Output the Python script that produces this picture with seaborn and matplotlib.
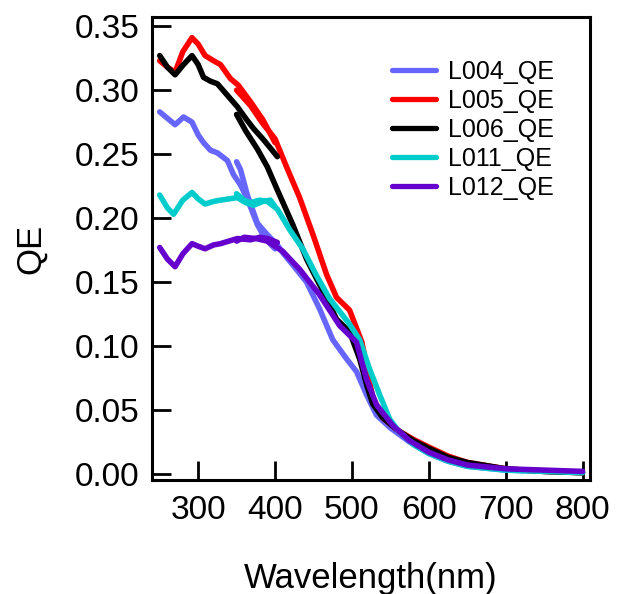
import pandas as pd
import matplotlib
matplotlib.use('Agg')
import matplotlib.pyplot as plt
import seaborn as sns

# Each sample was measured in two runs: a short UV scan and a long scan
series_names = ['L004_QE', 'L005_QE', 'L006_QE', 'L011_QE', 'L012_QE']
series_colors = ['#6666FF', '#FF0000', '#000000', '#00CCCC', '#6600CC']

l004_short_wl = [250, 260, 270, 281, 292, 300, 307, 316, 325, 338, 346, 355, 364, 377, 387, 400]
l004_short_qe = [0.283, 0.278, 0.273, 0.279, 0.275, 0.265, 0.259, 0.253, 0.251, 0.245, 0.234, 0.226, 0.215, 0.195, 0.184, 0.176]
l004_long_wl = [350, 355, 364, 377, 390, 403, 410, 425, 441, 458, 475, 493, 506, 519, 532, 550, 575, 600, 625, 650, 700, 750, 800]
l004_long_qe = [0.244, 0.238, 0.218, 0.196, 0.187, 0.179, 0.173, 0.162, 0.150, 0.129, 0.105, 0.090, 0.080, 0.062, 0.046, 0.036, 0.025, 0.016, 0.010, 0.006, 0.003, 0.002, 0.001]

l005_short_wl = [250, 260, 270, 280, 292, 300, 309, 320, 329, 342, 352, 368, 384, 400]
l005_short_qe = [0.323, 0.318, 0.314, 0.330, 0.341, 0.336, 0.327, 0.323, 0.320, 0.309, 0.304, 0.291, 0.277, 0.259]
l005_long_wl = [350, 368, 384, 400, 415, 432, 450, 467, 480, 497, 506, 513, 519, 527, 540, 560, 580, 600, 625, 650, 700, 750, 800]
l005_long_qe = [0.300, 0.288, 0.274, 0.262, 0.240, 0.216, 0.186, 0.156, 0.138, 0.128, 0.114, 0.103, 0.085, 0.060, 0.044, 0.034, 0.027, 0.021, 0.014, 0.009, 0.004, 0.002, 0.001]

l006_short_wl = [250, 260, 270, 281, 292, 300, 307, 316, 325, 338, 351, 363, 372, 384, 395, 403]
l006_short_qe = [0.327, 0.318, 0.312, 0.320, 0.327, 0.320, 0.310, 0.307, 0.305, 0.296, 0.287, 0.277, 0.270, 0.262, 0.254, 0.248]
l006_long_wl = [350, 362, 377, 390, 403, 423, 441, 458, 480, 497, 510, 520, 527, 540, 560, 580, 600, 625, 650, 700, 750, 800]
l006_long_qe = [0.281, 0.268, 0.254, 0.240, 0.222, 0.195, 0.168, 0.148, 0.121, 0.111, 0.090, 0.068, 0.055, 0.044, 0.034, 0.026, 0.020, 0.013, 0.009, 0.004, 0.002, 0.001]

l011_short_wl = [250, 260, 268, 280, 292, 300, 309, 320, 329, 340, 351, 362, 372, 384, 394, 400]
l011_short_qe = [0.218, 0.208, 0.203, 0.214, 0.220, 0.215, 0.211, 0.213, 0.214, 0.215, 0.216, 0.212, 0.210, 0.213, 0.214, 0.209]
l011_long_wl = [350, 360, 368, 380, 390, 403, 419, 436, 454, 471, 488, 497, 510, 523, 536, 549, 560, 580, 600, 625, 650, 700, 750, 800]
l011_long_qe = [0.219, 0.214, 0.212, 0.214, 0.213, 0.207, 0.191, 0.176, 0.155, 0.137, 0.124, 0.117, 0.105, 0.082, 0.062, 0.043, 0.034, 0.023, 0.016, 0.010, 0.006, 0.003, 0.002, 0.001]

l012_short_wl = [250, 260, 270, 280, 292, 300, 309, 320, 329, 340, 351, 368, 380, 390, 403]
l012_short_qe = [0.177, 0.168, 0.162, 0.172, 0.180, 0.178, 0.176, 0.179, 0.180, 0.182, 0.184, 0.183, 0.185, 0.184, 0.181]
l012_long_wl = [350, 360, 375, 390, 410, 432, 458, 484, 506, 519, 532, 553, 575, 600, 625, 650, 700, 750, 800]
l012_long_qe = [0.182, 0.185, 0.184, 0.182, 0.174, 0.160, 0.140, 0.116, 0.103, 0.074, 0.054, 0.038, 0.026, 0.017, 0.011, 0.007, 0.004, 0.003, 0.002]

runs = [
    ('L004_QE', l004_short_wl, l004_short_qe, l004_long_wl, l004_long_qe),
    ('L005_QE', l005_short_wl, l005_short_qe, l005_long_wl, l005_long_qe),
    ('L006_QE', l006_short_wl, l006_short_qe, l006_long_wl, l006_long_qe),
    ('L011_QE', l011_short_wl, l011_short_qe, l011_long_wl, l011_long_qe),
    ('L012_QE', l012_short_wl, l012_short_qe, l012_long_wl, l012_long_qe),
]

frames = []
for name, swl, sqe, lwl, lqe in runs:
    frames.append(pd.DataFrame({'wl': swl, 'qe': sqe, 'series': name, 'run': name + '_short'}))
    frames.append(pd.DataFrame({'wl': lwl, 'qe': lqe, 'series': name, 'run': name + '_long'}))
df = pd.concat(frames, ignore_index=True)

sns.set_style('ticks')
plt.rcParams['font.family'] = ['Liberation Sans', 'DejaVu Sans']
plt.rcParams['text.color'] = 'black'
plt.rcParams['axes.labelcolor'] = 'black'

fig = plt.figure(figsize=(6.18, 5.94), dpi=100)
ax = fig.add_axes([0.246, 0.192, 0.709, 0.779])

sns.lineplot(data=df, x='wl', y='qe', hue='series', units='run', estimator=None,
             sort=False, palette=dict(zip(series_names, series_colors)),
             hue_order=series_names, ax=ax)
for line in ax.lines:
    line.set_linewidth(4.0)
    line.set_solid_joinstyle('round')

ax.set_xlim(240, 810)
ax.set_ylim(-0.0047, 0.357)
ax.set_xticks([300, 400, 500, 600, 700, 800])
ax.set_yticks([0.0, 0.05, 0.10, 0.15, 0.20, 0.25, 0.30, 0.35])
ax.set_yticklabels(['0.00', '0.05', '0.10', '0.15', '0.20', '0.25', '0.30', '0.35'])
ax.tick_params(direction='in', length=14, width=2, labelsize=24, colors='black')
ax.tick_params(axis='x', pad=11)
ax.tick_params(axis='y', pad=9)
for s in ax.spines.values():
    s.set_linewidth(2.2)
    s.set_color('black')

ax.set_xlabel('Wavelength(nm)', fontsize=25, labelpad=26, color='black')
ax.set_ylabel('QE', fontsize=25, labelpad=20, color='black')

handles, labels = ax.get_legend_handles_labels()
for h in handles:
    h.set_linewidth(3.8)
leg = ax.legend(handles, labels, loc='upper left', bbox_to_anchor=(0.634, 0.899),
                bbox_transform=fig.transFigure, frameon=False, fontsize=18,
                handlelength=1.75, handletextpad=0.5, labelspacing=0.2, borderpad=0,
                borderaxespad=0)
for t in leg.get_texts():
    t.set_color('black')

fig.savefig('out.png', dpi=100)
